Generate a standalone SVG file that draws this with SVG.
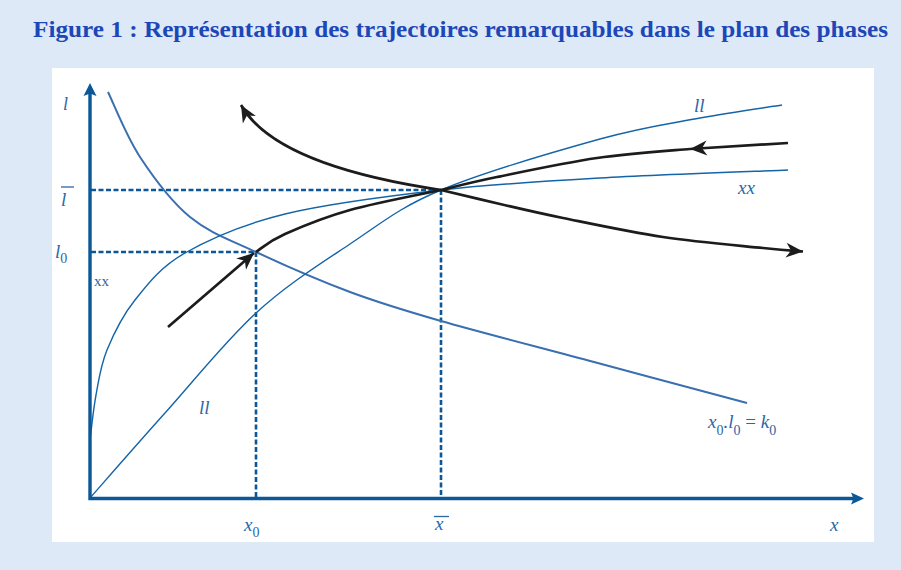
<svg xmlns="http://www.w3.org/2000/svg" width="901" height="570" viewBox="0 0 901 570">
<style>
.axis{stroke:#0b5798;stroke-width:3.4;fill:none}
.axhead{fill:#0b5798}
.dash{stroke:#0b5798;stroke-width:2.6;stroke-dasharray:5 2.5;fill:none}
.hyp{stroke:#3a6fb0;stroke-width:2;fill:none}
.thin{stroke:#1464a8;stroke-width:1.4;fill:none}
.traj{stroke:#1c1c1c;stroke-width:2.7;fill:none}
.lbl{font-family:"Liberation Serif","DejaVu Serif",serif;font-style:italic;fill:#2c66a8;font-size:19px}
.sub{font-size:14px}
.up{font-family:"Liberation Serif","DejaVu Serif",serif;fill:#2c66a8;font-size:15px}
.bar{stroke:#2c66a8;stroke-width:1.3}
.title{font-family:"Liberation Serif","DejaVu Serif",serif;font-weight:bold;fill:#1d47b8;font-size:23px}
</style>
<defs>
<marker id="arr" markerUnits="userSpaceOnUse" markerWidth="24" markerHeight="24" refX="0" refY="0" orient="auto" overflow="visible">
<path d="M0,0 L-17,-7.5 L-12,0 L-17,7.5 Z" fill="#1c1c1c"/>
</marker>
</defs>
<rect x="0" y="0" width="901" height="570" fill="#dde9f7"/>
<rect x="52" y="68" width="822" height="474" fill="#ffffff"/>
<text class="title" x="460.5" y="37" text-anchor="middle" textLength="855" lengthAdjust="spacingAndGlyphs">Figure 1 : Représentation des trajectoires remarquables dans le plan des phases</text>

<g id="guides">
<path class="dash" d="M91,190 H441 M91,252 H256 M256,252 V497 M441,190 V497"/>
</g>

<g id="curves">
<path id="hyperbole" class="hyp" d="M108,92 C113.3,102.8 126.3,136.2 140,157 C153.7,177.8 170.7,201.2 190,217 C209.3,232.8 229.3,239.5 256,252 C282.7,264.5 319.2,280.5 350,292 C380.8,303.5 400.3,309.3 441,321 C481.7,332.7 543,348.3 594,362 C645,375.7 721.5,396.2 747,403"/>
<path id="xx" class="thin" d="M90,440 C91,432.5 93.2,410 96,395 C98.8,380 100.5,365.8 107,350 C113.5,334.2 122,316.2 135,300 C148,283.8 160,267.3 185,253 C210,238.7 242.3,224.5 285,214 C327.7,203.5 388.5,196 441,190 C493.5,184 542.2,181.3 600,178 C657.8,174.7 756.7,171.3 788,170"/>
<path id="ll" class="thin" d="M90,498 C102.5,483.8 137.3,443.8 165,413 C192.7,382.2 225.2,341.2 256,313 C286.8,284.8 319.2,264.5 350,244 C380.8,223.5 399.3,207.5 441,190 C482.7,172.5 556.8,151 600,139 C643.2,127 669.7,123.7 700,118 C730.3,112.3 768.3,107.2 782,105"/>
</g>

<g id="trajectories">
<path class="traj" marker-end="url(#arr)" d="M441,190 C320,172 262,142 241,105"/>
<path class="traj" marker-end="url(#arr)" d="M441,190 C450.8,192.3 479.7,199.3 500,204 C520.3,208.7 535.8,212.5 563,218 C590.2,223.5 629.7,232 663,237 C696.3,242 739.8,245.6 763,248 C786.2,250.4 795.5,250.9 803,251.5"/>
<path class="traj" marker-end="url(#arr)" d="M788,143 L690,149"/>
<path class="traj" d="M690,149 C658.2,151.5 629.2,153.3 597,158 C564.8,162.7 523,171.7 497,177 C471,182.3 450.3,187.8 441,190"/>
<path class="traj" marker-end="url(#arr)" d="M168,327 L254,253"/>
<path class="traj" d="M256,252 C265.2,245.3 269.3,241 285,234 C300.7,227 324,217.3 350,210 C376,202.7 425.8,193.3 441,190"/>
</g>

<g id="axes">
<path class="axis" d="M90,500 V93 M88.3,498.5 H855"/>
<polygon class="axhead" points="90,83 96.5,96 90,93.5 83.5,96"/>
<polygon class="axhead" points="864,498.5 851,492.5 853.5,498.5 851,504.5"/>
</g>

<g id="labels">
<text class="lbl" x="63" y="110" style="font-size:18px">l</text>
<text class="lbl" x="61" y="206">l</text>
<line class="bar" x1="61" y1="187" x2="74" y2="187"/>
<text class="lbl" x="55" y="258">l<tspan class="sub" dy="5" font-style="normal">0</tspan></text>
<text class="up" x="94" y="286">xx</text>
<text class="lbl" x="694" y="112">ll</text>
<text class="lbl" x="738" y="194">xx</text>
<text class="lbl" x="199" y="414">ll</text>
<text class="lbl" x="708" y="428">x<tspan class="sub" dy="7" font-style="normal">0</tspan><tspan dy="-7">.l</tspan><tspan class="sub" dy="7" font-style="normal">0</tspan><tspan dy="-7" font-style="normal"> = </tspan><tspan>k</tspan><tspan class="sub" dy="7" font-style="normal">0</tspan></text>
<text class="lbl" x="830" y="531">x</text>
<text class="lbl" x="244" y="531">x<tspan class="sub" dy="6" font-style="normal">0</tspan></text>
<text class="lbl" x="435" y="530">x</text>
<line class="bar" x1="434" y1="516.5" x2="449" y2="516.5"/>
</g>
</svg>
